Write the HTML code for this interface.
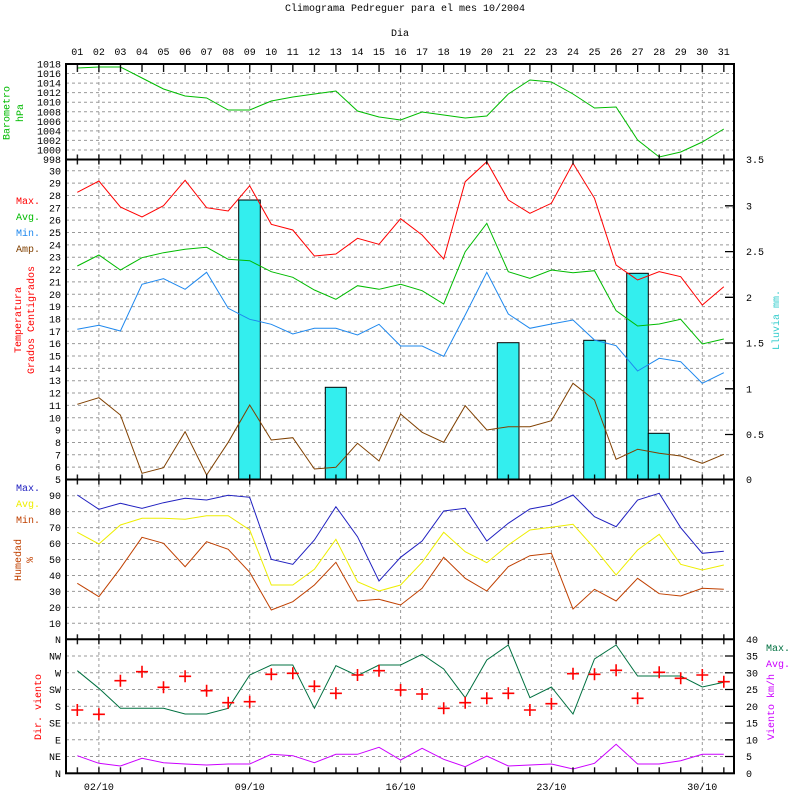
<!DOCTYPE html>
<html><head><meta charset="utf-8"><style>
html,body{margin:0;padding:0;background:#fff}
svg{display:block}
text{font-family:"Liberation Mono",monospace;font-size:10px}
</style></head><body>
<svg width="800" height="800" viewBox="0 0 800 800" xmlns="http://www.w3.org/2000/svg">
<defs>
<pattern id="tk" patternUnits="userSpaceOnUse" x="76.7" y="0" width="21.55" height="800">
<rect x="0" y="0" width="1.3" height="800" fill="#000"/>
</pattern>
</defs>
<rect width="800" height="800" fill="#fff"/>
<text x="405" y="11" text-anchor="middle">Climograma Pedreguer para el mes 10/2004</text>
<text x="400" y="36" text-anchor="middle">Dia</text>
<g text-anchor="middle">
<text x="77.3" y="55">01</text><text x="98.9" y="55">02</text><text x="120.4" y="55">03</text><text x="142" y="55">04</text><text x="163.5" y="55">05</text><text x="185.1" y="55">06</text><text x="206.6" y="55">07</text><text x="228.2" y="55">08</text><text x="249.7" y="55">09</text><text x="271.3" y="55">10</text><text x="292.8" y="55">11</text><text x="314.4" y="55">12</text><text x="335.9" y="55">13</text><text x="357.5" y="55">14</text><text x="379" y="55">15</text><text x="400.6" y="55">16</text><text x="422.1" y="55">17</text><text x="443.7" y="55">18</text><text x="465.2" y="55">19</text><text x="486.8" y="55">20</text><text x="508.3" y="55">21</text><text x="529.9" y="55">22</text><text x="551.4" y="55">23</text><text x="573" y="55">24</text><text x="594.5" y="55">25</text><text x="616.1" y="55">26</text><text x="637.6" y="55">27</text><text x="659.2" y="55">28</text><text x="680.7" y="55">29</text><text x="702.3" y="55">30</text><text x="723.8" y="55">31</text>
<text x="98.9" y="790">02/10</text><text x="249.7" y="790">09/10</text><text x="400.6" y="790">16/10</text><text x="551.4" y="790">23/10</text><text x="702.3" y="790">30/10</text>
</g>

<!-- grid -->
<g stroke="#999" stroke-width="1" stroke-dasharray="3,3" fill="none">
<path d="M98.9 64V773M249.7 64V773M400.6 64V773M551.4 64V773M702.3 64V773"/>
<path d="M66 73.55H734M66 83.1H734M66 92.65H734M66 102.2H734M66 111.75H734M66 121.3H734M66 130.85H734M66 140.4H734M66 149.95H734"/>
<path d="M66 467.15H734M66 454.8H734M66 442.45H734M66 430.1H734M66 417.75H734M66 405.4H734M66 393.05H734M66 380.7H734M66 368.35H734M66 356H734M66 343.65H734M66 331.3H734M66 318.95H734M66 306.6H734M66 294.25H734M66 281.9H734M66 269.55H734M66 257.2H734M66 244.85H734M66 232.5H734M66 220.15H734M66 207.8H734M66 195.45H734M66 183.1H734M66 170.75H734"/>
<path d="M66 623.3H734M66 607.4H734M66 591.4H734M66 575.5H734M66 559.5H734M66 543.5H734M66 527.6H734M66 511.6H734M66 495.7H734"/>
<path d="M66 656H734M66 672.8H734M66 689.5H734M66 706.3H734M66 723H734M66 739.8H734M66 756.5H734"/>
</g>

<!-- rain bars -->
<g fill="#33eeee" stroke="#000" stroke-width="1">
<rect x="238.7" y="200" width="21.6" height="279.5"/>
<rect x="325.3" y="387.3" width="21" height="92.2"/>
<rect x="497.3" y="342.7" width="21.7" height="136.8"/>
<rect x="583.7" y="340.3" width="21.6" height="139.2"/>
<rect x="626.7" y="273.3" width="21.6" height="206.2"/>
<rect x="648.3" y="433.3" width="21" height="46.2"/>
</g>

<g fill="none" stroke-width="1">
<polyline stroke="#00bb00" points="77.3,68 98.9,67 120.4,67 142,78 163.5,89 185.1,96 206.6,98 228.2,110 249.7,110 271.3,101 292.8,97 314.4,94 335.9,91 357.5,111 379,117 400.6,120 422.1,112 443.7,115 465.2,118 486.8,116 508.3,94 529.9,80 551.4,82 573,94 594.5,108 616.1,107 637.6,140 659.2,157 680.7,152 702.3,142 723.8,129"/>
<polyline stroke="#ff0000" points="77.3,192.3 98.9,181 120.4,207 142,217 163.5,205.7 185.1,180.3 206.6,207.7 228.2,211 249.7,185.7 271.3,224.3 292.8,230 314.4,256 335.9,254 357.5,238.3 379,244.3 400.6,218.7 422.1,235 443.7,259 465.2,181.7 486.8,161.7 508.3,200 529.9,213.3 551.4,203.3 573,163.3 594.5,198.3 616.1,265 637.6,280 659.2,271.7 680.7,276.7 702.3,305 723.8,286.7"/>
<polyline stroke="#00bb00" points="77.3,266 98.9,255 120.4,270 142,257.7 163.5,252.7 185.1,249.3 206.6,247.3 228.2,259.3 249.7,260.7 271.3,271.7 292.8,277.3 314.4,290 335.9,299.3 357.5,285.7 379,289.3 400.6,284.3 422.1,290.7 443.7,304 465.2,251.7 486.8,223.3 508.3,271.7 529.9,278.3 551.4,270 573,272.7 594.5,270.7 616.1,310.7 637.6,326 659.2,324 680.7,319.3 702.3,344 723.8,339"/>
<polyline stroke="#1e88ee" points="77.3,329.3 98.9,325.3 120.4,331 142,284.3 163.5,278.7 185.1,289.3 206.6,272.3 228.2,308.3 249.7,319.3 271.3,324.3 292.8,334 314.4,328.3 335.9,328.3 357.5,335 379,324.3 400.6,346 422.1,346 443.7,356.3 465.2,315 486.8,272.3 508.3,314 529.9,328.3 551.4,324 573,320 594.5,340 616.1,345.7 637.6,371 659.2,358.3 680.7,361.7 702.3,383.3 723.8,372.7"/>
<polyline stroke="#804000" points="77.3,404.3 98.9,397.7 120.4,415 142,473.3 163.5,467.7 185.1,431.7 206.6,475 228.2,442.3 249.7,405 271.3,440 292.8,437.7 314.4,469 335.9,467.3 357.5,443.3 379,461 400.6,414 422.1,432.3 443.7,442.3 465.2,405.7 486.8,430 508.3,426.7 529.9,426.7 551.4,420.7 573,383.3 594.5,400 616.1,459.3 637.6,449.3 659.2,453.3 680.7,456 702.3,463.3 723.8,454.3"/>
<polyline stroke="#2020c0" points="77.3,495 98.9,509.3 120.4,503.3 142,508.3 163.5,502.7 185.1,498.3 206.6,500 228.2,495.3 249.7,497.3 271.3,559.3 292.8,564.3 314.4,540 335.9,506.7 357.5,536.7 379,581 400.6,557.3 422.1,541 443.7,511 465.2,508.3 486.8,541 508.3,523.3 529.9,509 551.4,505 573,495 594.5,516.7 616.1,526.7 637.6,500 659.2,493.3 680.7,527.7 702.3,553.3 723.8,551.3"/>
<polyline stroke="#eeee00" points="77.3,532.3 98.9,544 120.4,525 142,518.3 163.5,518.3 185.1,519.3 206.6,515.7 228.2,515.7 249.7,530 271.3,585 292.8,585 314.4,569.3 335.9,539.3 357.5,581.7 379,591 400.6,585 422.1,562.3 443.7,532.3 465.2,551.7 486.8,562.7 508.3,545 529.9,530 551.4,527.3 573,524.3 594.5,548.3 616.1,575 637.6,550 659.2,534.3 680.7,564.3 702.3,570 723.8,565"/>
<polyline stroke="#c04000" points="77.3,583.3 98.9,596.7 120.4,568.3 142,537.3 163.5,543.3 185.1,566.7 206.6,541.7 228.2,549.3 249.7,572.3 271.3,610 292.8,601.7 314.4,585 335.9,562.3 357.5,601 379,599.3 400.6,605 422.1,588.3 443.7,557.3 465.2,578.3 486.8,591 508.3,566.7 529.9,555.7 551.4,553.3 573,609 594.5,589.3 616.1,601 637.6,578.3 659.2,593.7 680.7,596 702.3,588.3 723.8,589.3"/>
<polyline stroke="#007040" points="77.3,670.7 98.9,688.3 120.4,708.3 142,708.3 163.5,708.3 185.1,714 206.6,714 228.2,708.3 249.7,675 271.3,665 292.8,665 314.4,708.3 335.9,665.7 357.5,675.7 379,665 400.6,665 422.1,654.3 443.7,669 465.2,697.7 486.8,660 508.3,645 529.9,697.7 551.4,687 573,714 594.5,659 616.1,645 637.6,676 659.2,676 680.7,676 702.3,687 723.8,682.3"/>
<polyline stroke="#cc00ff" points="77.3,755.7 98.9,763.3 120.4,766 142,758.3 163.5,762.7 185.1,764 206.6,765 228.2,764 249.7,764 271.3,754.3 292.8,755.7 314.4,762.7 335.9,754.3 357.5,754.3 379,747.3 400.6,760 422.1,748.3 443.7,759.3 465.2,766.7 486.8,756 508.3,766 529.9,765 551.4,764 573,769 594.5,763.3 616.1,744.3 637.6,764 659.2,764 680.7,760.7 702.3,754.3 723.8,754.3"/>
<path stroke="#ff0000" stroke-width="1.6" d="M71.3 710h12M77.3 704v12M92.9 714.3h12M98.9 708.3v12M114.4 680.7h12M120.4 674.7v12M136 671.7h12M142 665.7v12M157.5 687.3h12M163.5 681.3v12M179.1 676.3h12M185.1 670.3v12M200.6 690.7h12M206.6 684.7v12M222.2 702.7h12M228.2 696.7v12M243.7 701.7h12M249.7 695.7v12M265.3 674.3h12M271.3 668.3v12M286.8 673.3h12M292.8 667.3v12M308.4 686.3h12M314.4 680.3v12M329.9 693.3h12M335.9 687.3v12M351.5 675h12M357.5 669v12M373 670.7h12M379 664.7v12M394.6 690h12M400.6 684v12M416.1 694h12M422.1 688v12M437.7 708.3h12M443.7 702.3v12M459.2 702.7h12M465.2 696.7v12M480.8 698.3h12M486.8 692.3v12M502.3 693.3h12M508.3 687.3v12M523.9 710h12M529.9 704v12M545.4 703.7h12M551.4 697.7v12M567 673.7h12M573 667.7v12M588.5 674.3h12M594.5 668.3v12M610.1 670.3h12M616.1 664.3v12M631.6 698.3h12M637.6 692.3v12M653.2 672.3h12M659.2 666.3v12M674.7 678.3h12M680.7 672.3v12M696.3 675h12M702.3 669v12M717.8 681.7h12M723.8 675.7v12"/>
</g>

<!-- frame & ticks -->
<g stroke="#000" stroke-width="2" fill="none">
<rect x="66" y="64" width="668" height="709.3"/>
<path d="M66 159.5H734M66 479.5H734M66 639.3H734"/>
</g>
<rect x="66" y="64" width="668" height="8" fill="url(#tk)"/>
<rect x="66" y="154.5" width="668" height="10" fill="url(#tk)"/>
<rect x="66" y="474.5" width="668" height="10" fill="url(#tk)"/>
<rect x="66" y="634.3" width="668" height="10" fill="url(#tk)"/>
<rect x="66" y="767.3" width="668" height="6" fill="url(#tk)"/>
<g stroke="#000" stroke-width="1.3">
<path d="M725 205.8H734M725 251.6H734M725 297.3H734M725 343H734M725 388.8H734M725 434.5H734"/>
<path d="M725 656H734M725 672.8H734M725 689.5H734M725 706.3H734M725 723H734M725 739.8H734M725 756.5H734"/>
</g>

<!-- left labels -->
<g text-anchor="end">
<text x="61" y="67.5">1018</text><text x="61" y="77">1016</text><text x="61" y="86.6">1014</text><text x="61" y="96.2">1012</text><text x="61" y="105.7">1010</text><text x="61" y="115.3">1008</text><text x="61" y="124.8">1006</text><text x="61" y="134.4">1004</text><text x="61" y="143.9">1002</text><text x="61" y="153.5">1000</text><text x="61" y="163">998</text>
<text x="61" y="174.3">30</text><text x="61" y="186.6">29</text><text x="61" y="199">28</text><text x="61" y="211.3">27</text><text x="61" y="223.7">26</text><text x="61" y="236">25</text><text x="61" y="248.4">24</text><text x="61" y="260.7">23</text><text x="61" y="273">22</text><text x="61" y="285.4">21</text><text x="61" y="297.8">20</text><text x="61" y="310.1">19</text><text x="61" y="322.5">18</text><text x="61" y="334.8">17</text><text x="61" y="347.2">16</text><text x="61" y="359.5">15</text><text x="61" y="371.9">14</text><text x="61" y="384.2">13</text><text x="61" y="396.6">12</text><text x="61" y="408.9">11</text><text x="61" y="421.3">10</text><text x="61" y="433.6">9</text><text x="61" y="446">8</text><text x="61" y="458.3">7</text><text x="61" y="470.7">6</text><text x="61" y="483">5</text>
<text x="61" y="499.2">90</text><text x="61" y="515.1">80</text><text x="61" y="531.1">70</text><text x="61" y="547">60</text><text x="61" y="563">50</text><text x="61" y="579">40</text><text x="61" y="594.9">30</text><text x="61" y="610.9">20</text><text x="61" y="626.8">10</text><text x="61" y="642.8">N</text>
<text x="61" y="659.5">NW</text><text x="61" y="676.3">W</text><text x="61" y="693">SW</text><text x="61" y="709.8">S</text><text x="61" y="726.5">SE</text><text x="61" y="743.3">E</text><text x="61" y="760">NE</text><text x="61" y="776.8">N</text>
</g>
<!-- right labels -->
<g>
<text x="746" y="163">3.5</text><text x="746" y="209.3">3</text><text x="746" y="255.1">2.5</text><text x="746" y="300.8">2</text><text x="746" y="346.5">1.5</text><text x="746" y="392.3">1</text><text x="746" y="438">0.5</text><text x="746" y="483">0</text>
<text x="746" y="642.8">40</text><text x="746" y="659.5">35</text><text x="746" y="676.3">30</text><text x="746" y="693">25</text><text x="746" y="709.8">20</text><text x="746" y="726.5">15</text><text x="746" y="743.3">10</text><text x="746" y="760">5</text><text x="746" y="776.8">0</text>
<text x="766" y="651" fill="#007040">Max.</text><text x="766" y="667" fill="#cc00ff">Avg.</text>
</g>
<!-- legends left -->
<text x="16" y="204" fill="#ff0000">Max.</text>
<text x="16" y="220" fill="#00bb00">Avg.</text>
<text x="16" y="236" fill="#1e88ee">Min.</text>
<text x="16" y="252" fill="#804000">Amp.</text>
<text x="16" y="491" fill="#2020c0">Max.</text>
<text x="16" y="507" fill="#eeee00">Avg.</text>
<text x="16" y="523" fill="#c04000">Min.</text>
<!-- rotated -->
<g text-anchor="middle">
<text transform="translate(9.5,113) rotate(-90)" fill="#00bb00">Barometro</text>
<text transform="translate(23,113) rotate(-90)" fill="#00bb00">hPa</text>
<text transform="translate(21,320) rotate(-90)" fill="#ff0000">Temperatura</text>
<text transform="translate(34,320) rotate(-90)" fill="#ff0000">Grados Centigrados</text>
<text transform="translate(21,560) rotate(-90)" fill="#c04000">Humedad</text>
<text transform="translate(33,560) rotate(-90)" fill="#c04000">%</text>
<text transform="translate(41,707) rotate(-90)" fill="#ff0000">Dir. viento</text>
<text transform="translate(779,320) rotate(-90)" fill="#33cccc">Lluvia mm.</text>
<text transform="translate(774,707) rotate(-90)" fill="#cc00ff">Viento km/h</text>
</g>
</svg>
</body></html>
